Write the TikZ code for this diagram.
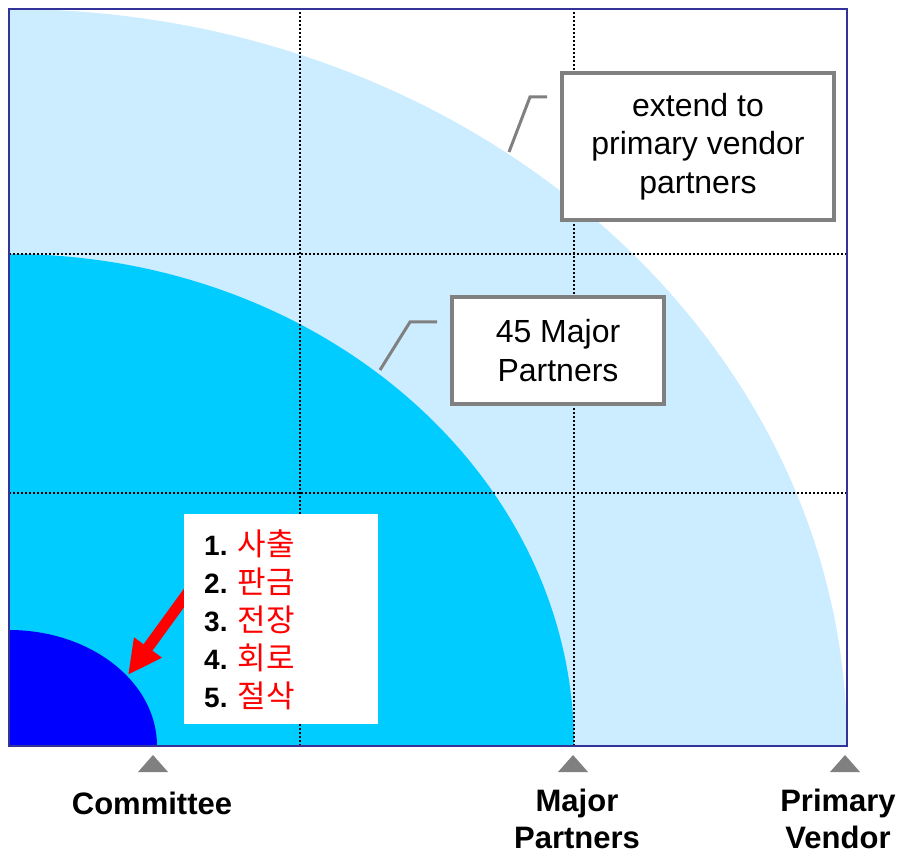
\documentclass[tikz,border=0pt]{standalone}
\usepackage{fontspec}
\setmainfont{Liberation Sans}
\newfontfamily\krfont{Noto Sans CJK KR}
\usetikzlibrary{arrows.meta}
\definecolor{lightzone}{HTML}{CCECFF}
\definecolor{midzone}{HTML}{00CCFF}
\definecolor{corezone}{HTML}{0000FF}
\definecolor{framecol}{HTML}{333399}
\definecolor{greyc}{HTML}{808080}
\tikzset{
  gridline/.style={black, line width=2pt, dash pattern=on 2pt off 2pt},
  calloutbox/.style={draw=greyc, line width=3.5pt, fill=white, align=center, inner sep=0pt,
     font=\fontsize{32}{38.5}\selectfont},
  calloutline/.style={draw=greyc, line width=3pt},
  marker/.style={fill=greyc, draw=none},
  axislabel/.style={align=center, font=\bfseries\fontsize{31}{37}\selectfont, anchor=base},
  listline/.style={anchor=base west, inner sep=0pt, font=\fontsize{28}{38}\selectfont},
}
\newcommand{\kr}[1]{\textcolor{red}{\krfont\fontsize{31}{38}\selectfont #1}}
\begin{document}
\begin{tikzpicture}[x=1pt,y=1pt]
\useasboundingbox (0,0) rectangle (899,855);
% zones
\coordinate (O) at (9,109);
\fill[lightzone] (O) -- (847,109) arc[start angle=0, end angle=90, x radius=838, y radius=737] -- cycle;
\fill[midzone] (O) -- (574,109) arc[start angle=0, end angle=90, x radius=565, y radius=492] -- cycle;
\fill[corezone] (O) -- (157,109) arc[start angle=0, end angle=90, x radius=148, y radius=116] -- cycle;
% grid
\coordinate (v1b) at (300,109); \coordinate (v1t) at (300,846);
\coordinate (v2b) at (574,109); \coordinate (v2t) at (574,846);
\coordinate (h1l) at (9,601); \coordinate (h1r) at (847,601);
\coordinate (h2l) at (9,362); \coordinate (h2r) at (847,362);
\draw[gridline] (v1b) -- (v1t);
\draw[gridline] (v2b) -- (v2t);
\draw[gridline] (h1l) -- (h1r);
\draw[gridline] (h2l) -- (h2r);
% callout boxes
\node[calloutbox, minimum width=272pt, minimum height=147pt] (ext) at (698,708.5)
  {extend to\\primary vendor\\partners};
\coordinate (c1a) at (509,703);
\coordinate (c1b) at (530,758);
\coordinate (c1c) at (547,758);
\draw[calloutline] (c1a) -- (c1b) -- (c1c);
\node[calloutbox, minimum width=212pt, minimum height=107pt] (maj) at (558,504.5)
  {45 Major\\Partners};
\coordinate (c2a) at (380,485);
\coordinate (c2b) at (410,533);
\coordinate (c2c) at (437,533);
\draw[calloutline] (c2a) -- (c2b) -- (c2c);
% arrow then list box
\coordinate (arrS) at (192,268);
\coordinate (arrT) at (128,180);
\draw[red, line width=11pt, -{Triangle[width=32pt,length=34pt]}] (arrS) -- (arrT);
\node[fill=white, minimum width=194pt, minimum height=210pt, inner sep=0pt] (list) at (281,236) {};
\node[listline] (l1) at (204,300) {\textbf{1.} \kr{사출}};
\node[listline] (l2) at (204,262) {\textbf{2.} \kr{판금}};
\node[listline] (l3) at (204,224) {\textbf{3.} \kr{전장}};
\node[listline] (l4) at (204,186) {\textbf{4.} \kr{회로}};
\node[listline] (l5) at (204,148) {\textbf{5.} \kr{절삭}};
% frame
\draw[framecol, line width=2.5pt] (9,109) rectangle (847,846);
% markers
\fill[marker] (138,83) -- (168,83) -- (153,100) -- cycle;
\fill[marker] (558,83) -- (588,83) -- (573,100) -- cycle;
\fill[marker] (830,83) -- (860,83) -- (845,100) -- cycle;
% axis labels
\node[axislabel] (lc) at (152,41) {Committee};
\node[axislabel] (lm) at (577,7) {Major\\Partners};
\node[axislabel] (lp) at (838,7) {Primary\\Vendor};
\end{tikzpicture}
\end{document}
